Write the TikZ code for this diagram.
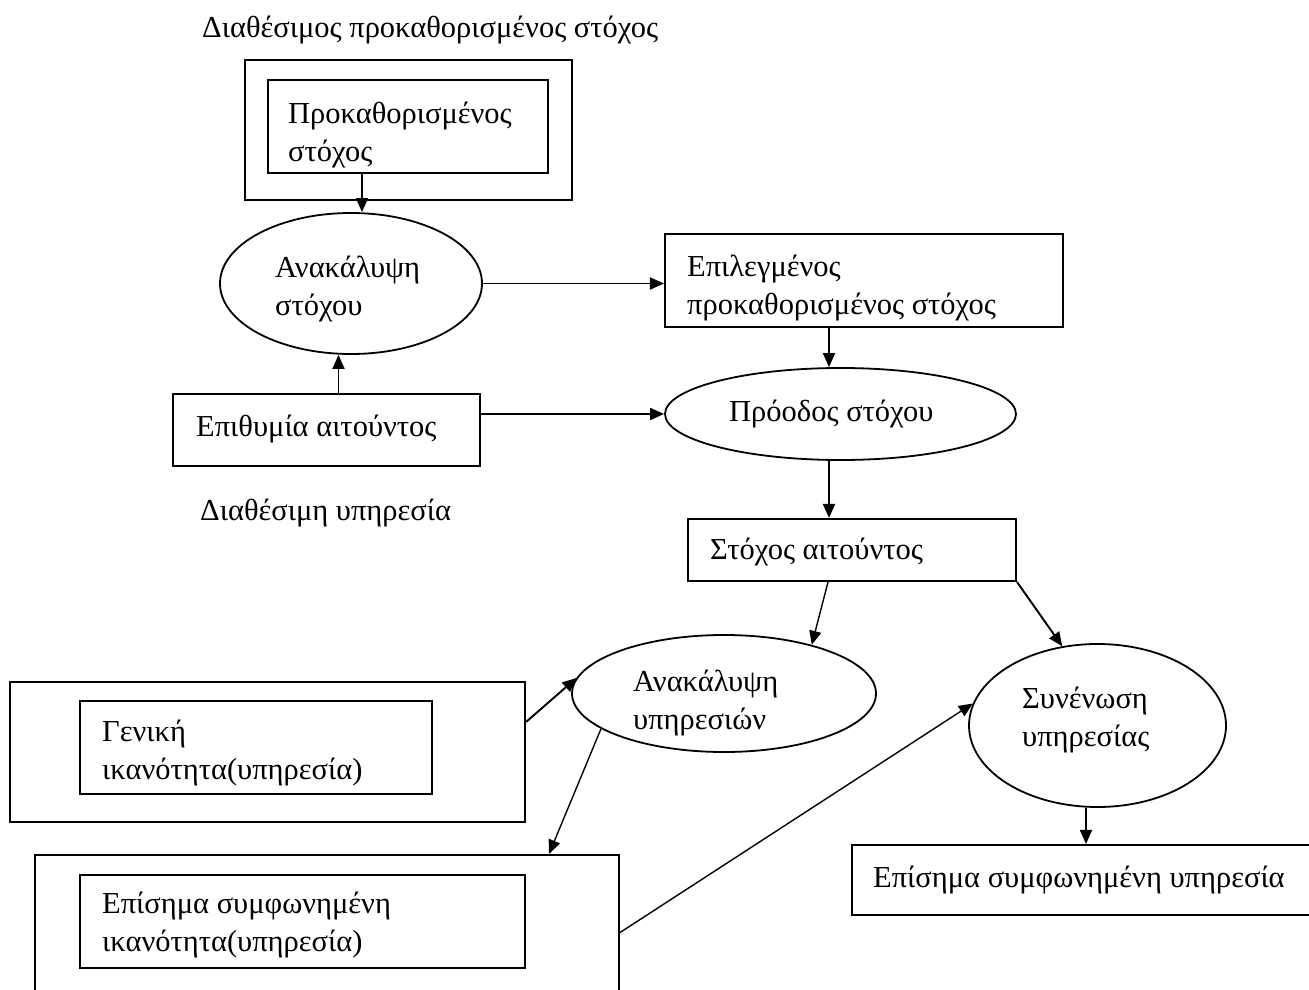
\documentclass[tikz,border=0pt]{standalone}
\usepackage{fontspec}
\setmainfont{Liberation Serif}
\usetikzlibrary{arrows.meta,shapes.geometric}
\begin{document}
\begin{tikzpicture}[x=1pt,y=-1pt,
  box/.style={draw, line width=2.1pt, rectangle, inner sep=0pt},
  oval/.style={draw, line width=1.8pt, ellipse, inner sep=0pt},
  txt/.style={anchor=base west, inner sep=0pt, align=left, font=\fontsize{30.5}{38}\selectfont},
  arr/.style={line width=1.9pt, -{Triangle[length=14pt,width=12pt]}},
  thinarr/.style={line width=1.4pt, -{Triangle[length=14pt,width=12pt]}}]
\useasboundingbox (0,0) rectangle (1309,990);

% goal discovery part (two-line labels are placed by the baseline of their last line)
\node[txt] (title) at (202,38) {Διαθέσιμος προκαθορισμένος στόχος};
\node[box, minimum width=327pt, minimum height=140pt] (outer1) at (408.5,130) {};
\node[box, minimum width=280pt, minimum height=93pt] (inner1) at (408,126.5) {};
\node[txt] (inner1T) at (288,161) {Προκαθορισμένος\\στόχος};

\node[oval, minimum width=262pt, minimum height=141pt] (ell1) at (351,283.5) {};
\node[txt] (ell1T) at (275,315) {Ανακάλυψη\\στόχου};

\node[box, minimum width=398pt, minimum height=93pt] (sel) at (864,280.5) {};
\node[txt] (selT) at (687,314) {Επιλεγμένος\\προκαθορισμένος στόχος};

\node[oval, minimum width=351pt, minimum height=92pt] (prog) at (840.5,414) {};
\node[txt] (progT) at (729,421) {Πρόοδος στόχου};

\node[box, minimum width=307pt, minimum height=72pt] (des) at (326.5,430) {};
\node[txt] (desT) at (196,436) {Επιθυμία αιτούντος};

\node[txt] (avail) at (200,520) {Διαθέσιμη υπηρεσία};

\node[box, minimum width=328pt, minimum height=62pt] (goal) at (852,550) {};
\node[txt] (goalT) at (710,559) {Στόχος αιτούντος};

% service discovery part
\node[oval, minimum width=304pt, minimum height=117pt] (ell2) at (724,693.5) {};
\node[txt] (ell2T) at (633,729) {Ανακάλυψη\\υπηρεσιών};

\node[oval, minimum width=257pt, minimum height=163pt] (ell3) at (1097.5,725.5) {};
\node[txt] (ell3T) at (1022,746) {Συνένωση\\υπηρεσίας};

\node[box, minimum width=515pt, minimum height=140pt] (outer2) at (267.5,752) {};
\node[box, minimum width=352pt, minimum height=93pt] (inner2) at (256,747.5) {};
\node[txt] (inner2T) at (102,779) {Γενική\\ικανότητα(υπηρεσία)};

\node[box, minimum width=584pt, minimum height=155pt] (outer3) at (327,932.5) {};
\node[box, minimum width=445pt, minimum height=93pt] (inner3) at (302.5,921.5) {};
\node[txt] (inner3T) at (102,951) {Επίσημα συμφωνημένη\\ικανότητα(υπηρεσία)};

\node[box, minimum width=478pt, minimum height=70pt] (final) at (1091,880) {};
\node[txt] (finalT) at (873,887) {Επίσημα συμφωνημένη υπηρεσία};

% connectors
\draw[arr] ([xshift=-46pt]inner1.south) -- ([xshift=11pt]ell1.north);
\draw[arr] (ell1.east) -- (ell1.east -| sel.west);
\draw[arr] ([xshift=-35pt]sel.south) -- ([xshift=-35pt]sel.south |- prog.north);
\draw[arr] ([xshift=12pt]des.north) -- ([xshift=12pt]des.north |- ell1.south);
\draw[arr] (des.east |- prog.west) -- (prog.west);
\draw[arr] ([xshift=-23pt]goal.north |- prog.south) -- ([xshift=-23pt]goal.north);
\draw[thinarr] ([xshift=-24pt]goal.south) -- (ell2.29);
\draw[arr] (goal.south east) -- (ell3.114);
\draw[arr] ([yshift=30pt]outer2.east) -- (ell2.174);
\draw[thinarr] (ell2.196) -- ([xshift=222pt]outer3.north);
\draw[thinarr] (outer3.east) -- (ell3.170);
\draw[arr] ([xshift=-5pt]final.north |- ell3.south) -- ([xshift=-5pt]final.north);
\end{tikzpicture}
\end{document}
